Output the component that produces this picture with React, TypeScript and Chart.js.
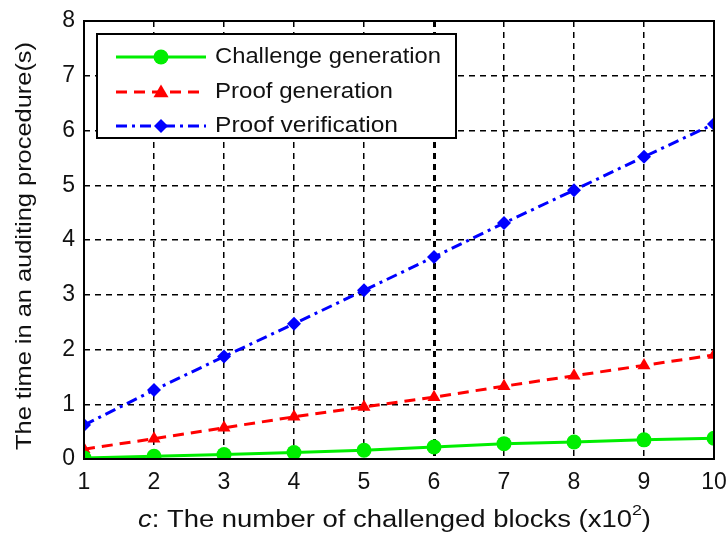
import React, { useEffect, useRef } from "react";
import { Chart, registerables } from "chart.js";

Chart.register(...registerables);

const blocks = [1, 2, 3, 4, 5, 6, 7, 8, 9, 10];
const challengeGen = [0.02, 0.05, 0.08, 0.12, 0.16, 0.22, 0.28, 0.31, 0.35, 0.38];
const proofGen = [0.18, 0.37, 0.57, 0.77, 0.95, 1.13, 1.33, 1.52, 1.71, 1.9];
const proofVer = [0.62, 1.26, 1.87, 2.47, 3.08, 3.69, 4.31, 4.91, 5.52, 6.12];
const seriesNames = ["Challenge generation", "Proof generation", "Proof verification"];
const yTitle = "The time in an auditing procedure(s)";
const xTitleItalic = "c";
const xTitleMain = ": The number of challenged blocks (x10";
const xTitleSup = "2";
const xTitleEnd = ")";

const FONT = "'Liberation Sans', Arial, sans-serif";

export default function App() {
  const ref = useRef<HTMLCanvasElement | null>(null);

  useEffect(() => {
    document.body.style.margin = "0";
    const canvas = ref.current;
    if (!canvas) return;

    const styles = [
      { color: "#00ee00", dash: [] as number[], marker: "circle", radius: 7.5 },
      { color: "#ff0000", dash: [11, 7], marker: "triangle", radius: 7.5 },
      { color: "#0000ff", dash: [11, 5, 3, 5], marker: "rectRot", radius: 7 },
    ];
    const seriesData = [challengeGen, proofGen, proofVer];
    const legendWidths = [226, 178, 183];

    const decor = {
      id: "decor",
      afterDraw(chart: any) {
        const ctx = chart.ctx as CanvasRenderingContext2D;
        const a = chart.chartArea;
        ctx.save();
        ctx.setLineDash([]);
        ctx.strokeStyle = "#000";
        ctx.lineWidth = 2;
        ctx.strokeRect(a.left, a.top, a.right - a.left, a.bottom - a.top);

        // legend
        const lx = 97, ly = 34, lw = 359, lh = 104;
        ctx.fillStyle = "#fff";
        ctx.fillRect(lx, ly, lw, lh);
        ctx.lineWidth = 2;
        ctx.strokeRect(lx, ly, lw, lh);
        const rows = [57, 92, 126];
        for (let i = 0; i < 3; i++) {
          const s = styles[i];
          const y = rows[i];
          ctx.strokeStyle = s.color;
          ctx.lineWidth = 3;
          ctx.setLineDash(s.dash);
          ctx.beginPath();
          ctx.moveTo(116, y);
          ctx.lineTo(206, y);
          ctx.stroke();
          ctx.setLineDash([]);
          ctx.fillStyle = s.color;
          ctx.beginPath();
          const cx = 161, r = s.radius;
          if (s.marker === "circle") {
            ctx.arc(cx, y, r, 0, Math.PI * 2);
          } else if (s.marker === "triangle") {
            ctx.moveTo(cx, y - r);
            ctx.lineTo(cx + r, y + r * 0.7);
            ctx.lineTo(cx - r, y + r * 0.7);
            ctx.closePath();
          } else {
            ctx.moveTo(cx, y - r);
            ctx.lineTo(cx + r, y);
            ctx.lineTo(cx, y + r);
            ctx.lineTo(cx - r, y);
            ctx.closePath();
          }
          ctx.fill();
          ctx.fillStyle = "#111";
          ctx.font = `22px ${FONT}`;
          ctx.textAlign = "left";
          ctx.textBaseline = "middle";
          const nat = ctx.measureText(seriesNames[i]).width;
          ctx.save();
          ctx.translate(215, y);
          ctx.scale(legendWidths[i] / nat, 1);
          ctx.fillText(seriesNames[i], 0, 0);
          ctx.restore();
        }

        // y title
        ctx.save();
        ctx.font = `22px ${FONT}`;
        const ny = ctx.measureText(yTitle).width;
        ctx.translate(25, 246);
        ctx.rotate(-Math.PI / 2);
        ctx.scale(408 / ny, 1);
        ctx.fillStyle = "#111";
        ctx.textAlign = "center";
        ctx.textBaseline = "middle";
        ctx.fillText(yTitle, 0, 0);
        ctx.restore();

        // x title
        const fMain = `23px ${FONT}`;
        const fIt = `italic 23px ${FONT}`;
        const fSup = `15px ${FONT}`;
        ctx.font = fIt;
        const w1 = ctx.measureText(xTitleItalic).width;
        ctx.font = fMain;
        const w2 = ctx.measureText(xTitleMain).width;
        const w4 = ctx.measureText(xTitleEnd).width;
        ctx.font = fSup;
        const w3 = ctx.measureText(xTitleSup).width;
        const total = w1 + w2 + w3 + w4;
        const k = 513 / total;
        ctx.save();
        ctx.translate(138, 521);
        ctx.scale(k, 1);
        let x = 0;
        ctx.textAlign = "left";
        ctx.textBaseline = "middle";
        ctx.fillStyle = "#111";
        ctx.font = fIt;
        ctx.fillText(xTitleItalic, x, 0);
        x += w1;
        ctx.font = fMain;
        ctx.fillText(xTitleMain, x, 0);
        x += w2;
        ctx.font = fSup;
        ctx.fillText(xTitleSup, x, -10);
        x += w3;
        ctx.font = fMain;
        ctx.fillText(xTitleEnd, x, 0);
        ctx.restore();
        ctx.restore();
      },
    };

    const chart = new Chart(canvas, {
      type: "line",
      data: {
        datasets: seriesData.map((d, i) => ({
          label: seriesNames[i],
          data: d.map((v, j) => ({ x: blocks[j], y: v })),
          borderColor: styles[i].color,
          backgroundColor: styles[i].color,
          borderWidth: 3,
          borderDash: styles[i].dash,
          pointStyle: styles[i].marker as any,
          pointRadius: styles[i].radius,
          pointBorderWidth: 0,
          tension: 0,
          fill: false,
        })),
      },
      options: {
        animation: false,
        responsive: false,
        devicePixelRatio: 1,
        layout: { padding: { top: 21, right: 14, left: 0, bottom: 0 } },
        plugins: { legend: { display: false }, tooltip: { enabled: false } },
        scales: {
          x: {
            type: "linear",
            min: 1,
            max: 10,
            afterFit: (s: any) => {
              s.height = 76;
              s.paddingLeft = 0;
              s.paddingRight = 0;
            },
            ticks: { stepSize: 1, color: "#111", font: { size: 23, family: FONT }, padding: 10 },
            grid: {
              color: "#000",
              lineWidth: (c: any) => (c.tick && c.tick.value === 6 ? 3 : 1.5),
              drawTicks: false,
            },
            border: { display: false, dash: [6, 5] },
          },
          y: {
            min: 0,
            max: 8,
            afterFit: (s: any) => {
              s.width = 84;
              s.paddingTop = 0;
              s.paddingBottom = 0;
            },
            ticks: { stepSize: 1, color: "#111", font: { size: 23, family: FONT }, padding: 9 },
            grid: { color: "#000", lineWidth: 1.5, drawTicks: false },
            border: { display: false, dash: [6, 5] },
          },
        },
      },
      plugins: [decor],
    });
    return () => chart.destroy();
  }, []);

  return (
    <div style={{ position: "absolute", left: 0, top: 0, width: 728, height: 535, background: "#fff" }}>
      <canvas ref={ref} width={728} height={535} style={{ width: 728, height: 535 }} />
    </div>
  );
}
